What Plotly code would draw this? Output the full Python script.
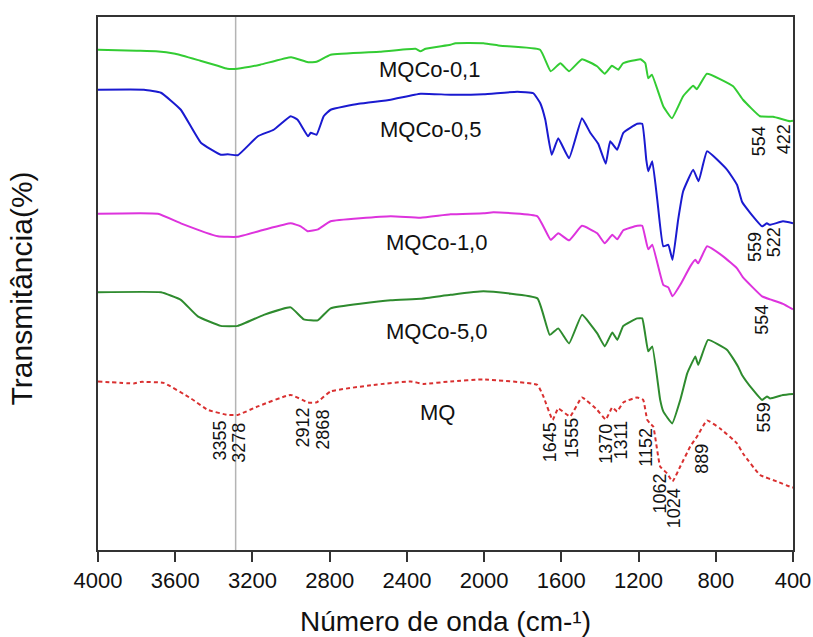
import plotly.graph_objects as go

# ---------------- data (wavenumber cm-1, transmittance a.u., stacked) ----------------
wn_mqco01 = [4000, 3800, 3700, 3600, 3470, 3380, 3330, 3278, 3160, 3000, 2912, 2868, 2795, 2540, 2355, 2330, 2303,
             2175, 2148, 2003, 1916, 1710, 1655, 1605, 1560, 1493, 1415, 1375, 1338, 1305, 1280, 1190,
             1165, 1150, 1131, 1072, 1027, 969, 917, 898, 846, 710, 659, 571, 503, 415, 400]
t_mqco01 = [100, 99.8, 99.7, 99.2, 97.8, 96.8, 96.2, 96.2, 97, 98.5, 97.5, 97.6, 99, 99.6, 100.2, 99.7, 100.2,
            101, 101.3, 101.3, 100.8, 100, 95.7, 97.3, 95.7, 98.1, 96.7, 95.2, 96.8, 96, 97.3, 98.1,
            97.3, 94.3, 95, 88.7, 86.3, 90.7, 92.8, 92.1, 95.2, 92.7, 90, 86.7, 86.6, 85.7, 85.8]

wn_mqco05 = [4000, 3762, 3674, 3571, 3467, 3364, 3328, 3276, 3172, 3090, 3002, 2966, 2912, 2898, 2868,
             2831, 2795, 2650, 2484, 2329, 2174, 2003, 1828, 1745, 1709, 1683, 1650, 1616, 1560, 1493, 1450,
             1409, 1370, 1347, 1311, 1279, 1207, 1181, 1160, 1150, 1129, 1103, 1072, 1046, 1024, 995,
             969, 917, 889, 845, 741, 690, 664, 622, 560, 535, 520, 452, 400]
t_mqco05 = [92, 92, 91.4, 88, 81.4, 79, 79.1, 78.9, 82.7, 84, 86.7, 86, 82.7, 83.4, 83,
            86.7, 88, 89.2, 90, 91.2, 91, 91.1, 91.6, 91.3, 89.3, 86, 79, 82.3, 78.3, 86.3, 83.4,
            81.2, 77.2, 81.7, 80, 83.4, 85.2, 85.2, 78, 75.7, 77.7, 70, 60.7, 61, 58, 66,
            71.7, 76, 73.7, 79.7, 76, 73, 69.6, 67.4, 64.7, 65.3, 65, 65.7, 65.3]

wn_mqco10 = [4000, 3690, 3571, 3379, 3278, 3141, 3002, 2950, 2914, 2860, 2795, 2484, 2329, 2174, 2003,
             1952, 1724, 1655, 1616, 1560, 1493, 1414, 1375, 1336, 1310, 1279, 1207, 1181, 1150, 1129,
             1072, 1046, 1024, 984, 932, 906, 891, 845, 762, 690, 659, 560, 519, 452, 400]
t_mqco10 = [67.2, 67.2, 65.3, 62.7, 62.6, 64, 65.3, 64.7, 63.7, 64.1, 65.7, 66.7, 66.4, 67.1, 67.3,
            67.5, 66.7, 62, 63.3, 61.9, 64.8, 63.3, 61.3, 63, 62.1, 63.9, 64.8, 64.8, 60.1, 61,
            53, 52.5, 50.7, 53, 56.7, 58, 57.3, 60.7, 58.7, 56.3, 54.5, 50.7, 50.1, 49.2, 48.1]

wn_mqco50 = [4000, 3674, 3571, 3483, 3364, 3276, 3141, 3002, 2934, 2862, 2795, 2484, 2329, 2174, 2003,
             1724, 1660, 1616, 1560, 1493, 1414, 1375, 1336, 1310, 1279, 1207, 1181, 1150, 1129, 1088,
             1072, 1026, 984, 948, 932, 906, 891, 840, 741, 685, 664, 607, 560, 535, 519, 452, 400]
t_mqco50 = [51.5, 51.5, 50, 46.7, 44.8, 44.8, 47, 48.5, 46.1, 45.9, 48.3, 49.9, 50.2, 51, 51.7,
            50.3, 43, 44.3, 41.3, 47, 43.3, 40.7, 43.5, 42, 44.8, 46.3, 46.3, 39.7, 40.7, 30,
            27.7, 25.3, 30, 35.3, 36.7, 38.7, 37, 42, 40, 36.7, 35, 32, 30, 30.7, 30.3, 31, 31.2]

wn_mq = [4000, 3815, 3780, 3660, 3519, 3431, 3328, 3276, 3172, 3002, 2912, 2868, 2795, 2572, 2381,
         2314, 2174, 2003, 1724, 1693, 1645, 1616, 1555, 1493, 1414, 1370, 1336, 1311, 1279, 1207,
         1176, 1155, 1140, 1124, 1088, 1052, 1024, 984, 932, 897, 845, 778, 690, 659, 571, 483, 405, 400]
t_mq = [33.7, 33.3, 33.6, 33.4, 30.3, 28, 27, 27, 28.7, 31, 29.5, 29.5, 31.7, 33, 33.7,
        33.2, 33.7, 34.1, 33, 30.7, 26, 28.3, 26.7, 30.5, 28, 26.1, 28.5, 27.7, 29.5, 30.5,
        30, 26, 25.3, 24.7, 16.7, 15.3, 13.7, 16.7, 20.7, 22.7, 25.9, 24.3, 21.3, 19.3, 15, 13.7, 12.5, 12.5]

series_names = ["MQCo-0,1", "MQCo-0,5", "MQCo-1,0", "MQCo-5,0", "MQ"]
x_ticks = [4000, 3600, 3200, 2800, 2400, 2000, 1600, 1200, 800, 400]
ref_line_wn = 3287

# band labels: text, label x (cm-1), label y (a.u.)
band_labels = [
    ("3355", 3370, 21.8), ("3278", 3271, 21.4), ("2912", 2940, 24.4), ("2868", 2836, 24.0),
    ("1645", 1657, 21.6), ("1555", 1545, 22.4), ("1370", 1370, 21.2), ("1311", 1293, 22.0),
    ("1152", 1163, 20.6), ("1062", 1091, 11.2), ("1024", 1015, 8.4), ("889", 872, 18.2),
    ("559", 553, 26.6), ("559", 596, 60.6), ("522", 501, 61.4), ("554", 561, 46.0),
    ("554", 579, 81.8), ("422", 449, 82.0),
]
name_label_pos = [(2284, 96.0), (2278, 84.0), (2247, 61.4), (2247, 43.6), (2243, 27.4)]

# ---------------- figure ----------------
FONT = "Arial, Liberation Sans, sans-serif"
styles = [
    dict(color="#33cc33", width=2),
    dict(color="#1a1ad0", width=2),
    dict(color="#dd33dd", width=2),
    dict(color="#2e8b2e", width=2),
    dict(color="#d93030", width=2, dash="4px,3px"),
]
xs = [wn_mqco01, wn_mqco05, wn_mqco10, wn_mqco50, wn_mq]
ys = [t_mqco01, t_mqco05, t_mqco10, t_mqco50, t_mq]

fig = go.Figure()
for name, x, y, st in zip(series_names, xs, ys, styles):
    fig.add_trace(go.Scatter(x=x, y=y, mode="lines", name=name, showlegend=False,
                             line=dict(**st, shape="spline", smoothing=0.35)))

fig.add_shape(type="line", xref="x", yref="paper", x0=ref_line_wn, x1=ref_line_wn, y0=0, y1=1,
              line=dict(color="#b4b4b4", width=1.5), layer="below")

annotations = []
for name, (lx, ly) in zip(series_names, name_label_pos):
    annotations.append(dict(x=lx, y=ly, xref="x", yref="y", text=name, showarrow=False,
                            font=dict(family=FONT, size=22, color="#111"),
                            xanchor="center", yanchor="middle"))
for txt, lx, ly in band_labels:
    annotations.append(dict(x=lx, y=ly, xref="x", yref="y", text=txt, showarrow=False,
                            textangle=-90, font=dict(family=FONT, size=18, color="#111"),
                            xanchor="center", yanchor="middle"))
annotations.append(dict(x=0.5, y=-0.134, xref="paper", yref="paper",
                        text="Número de onda (cm-¹)", showarrow=False,
                        font=dict(family=FONT, size=28, color="#111"),
                        xanchor="center", yanchor="middle"))
annotations.append(dict(x=-0.11, y=0.49, xref="paper", yref="paper",
                        text="Transmitância(%)", showarrow=False, textangle=-90,
                        font=dict(family=FONT, size=30, color="#111"),
                        xanchor="center", yanchor="middle"))

fig.update_layout(
    width=813, height=637,
    margin=dict(l=97.6, r=20.2, t=17.3, b=86.7, autoexpand=False),
    plot_bgcolor="white", paper_bgcolor="white",
    annotations=annotations,
    font=dict(family=FONT, color="#111"),
)
fig.update_xaxes(range=[4000, 400], tickvals=x_ticks, ticks="outside", ticklen=10, tickwidth=1.5,
                 tickcolor="#333", showline=True, linecolor="#333", linewidth=2, mirror=True,
                 showgrid=False, zeroline=False, tickfont=dict(family=FONT, size=22, color="#111"))
fig.update_yaxes(range=[0, 106.54], showticklabels=False, ticks="", showline=True, linecolor="#333",
                 linewidth=2, mirror=True, showgrid=False, zeroline=False)

fig.write_html("out.html")
